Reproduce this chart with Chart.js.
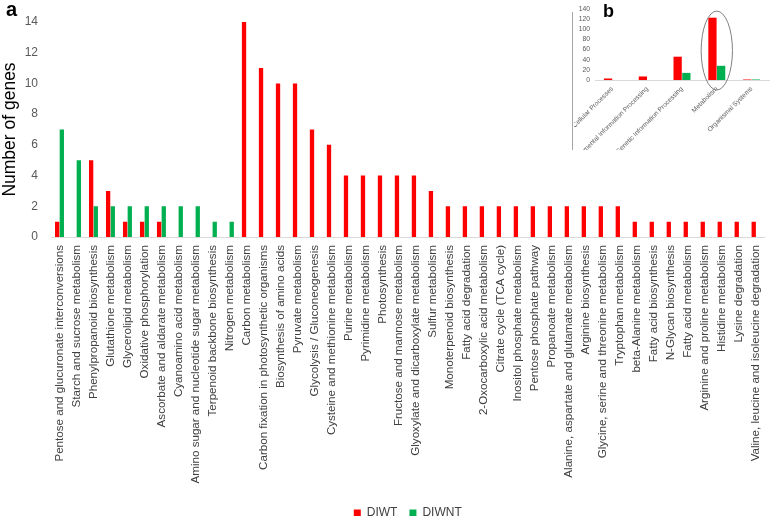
<!DOCTYPE html>
<html>
<head>
<meta charset="utf-8">
<script src="https://cdn.jsdelivr.net/npm/chart.js@4.4.1/dist/chart.umd.min.js"></script>
<style>
  html, body { margin: 0; padding: 0; background: #fff; }
  #wrap { position: relative; width: 778px; height: 516px; overflow: hidden; font-family: "Liberation Sans", Arial, sans-serif; }
  #mainChart { position: absolute; left: 0; top: 0; }
  #inset { position: absolute; left: 572px; top: 0; width: 206px; height: 150px; background: #fff; overflow: hidden; }
  #insetLine { position: absolute; left: 572px; top: 12px; width: 1px; height: 138px; background: #a6a6a6; }
  #insetChart { position: absolute; left: 2px; top: 0; }
  .panel { position: absolute; font-weight: bold; color: #000; }
</style>
</head>
<body>
<div id="wrap">
  <canvas id="mainChart" width="778" height="516"></canvas>
  <div id="inset"><canvas id="insetChart" width="204" height="150"></canvas></div>
  <div id="insetLine"></div>
  <div class="panel" style="left:6px; top:-2px; font-size:20px;">a</div>
  <div class="panel" style="left:603px; top:1px; font-size:18px;">b</div>
</div>
<script>
// panel a: pathways
const pathways = [
    'Pentose and glucuronate interconversions', 'Starch and sucrose metabolism', 'Phenylpropanoid biosynthesis',
    'Glutathione metabolism', 'Glycerolipid metabolism', 'Oxidative phosphorylation', 'Ascorbate and aldarate metabolism',
    'Cyanoamino acid metabolism', 'Amino sugar and nucleotide sugar metabolism', 'Terpenoid backbone biosynthesis',
    'Nitrogen metabolism', 'Carbon metabolism', 'Carbon fixation in photosynthetic organisms', 'Biosynthesis of amino acids',
    'Pyruvate metabolism', 'Glycolysis / Gluconeogenesis', 'Cysteine and methionine metabolism', 'Purine metabolism',
    'Pyrimidine metabolism', 'Photosynthesis', 'Fructose and mannose metabolism', 'Glyoxylate and dicarboxylate metabolism',
    'Sulfur metabolism', 'Monoterpenoid biosynthesis', 'Fatty acid degradation', '2-Oxocarboxylic acid metabolism',
    'Citrate cycle (TCA cycle)', 'Inositol phosphate metabolism', 'Pentose phosphate pathway', 'Propanoate metabolism',
    'Alanine, aspartate and glutamate metabolism', 'Arginine biosynthesis', 'Glycine, serine and threonine metabolism',
    'Tryptophan metabolism', 'beta-Alanine metabolism', 'Fatty acid biosynthesis', 'N-Glycan biosynthesis',
    'Fatty acid metabolism', 'Arginine and proline metabolism', 'Histidine metabolism', 'Lysine degradation',
    'Valine, leucine and isoleucine degradation'
];
const diwt = [1, 0, 5, 3, 1, 1, 1, 0, 0, 0, 0, 14, 11, 10, 10, 7, 6, 4, 4, 4, 4, 4, 3,
              2, 2, 2, 2, 2, 2, 2, 2, 2, 2, 2, 1, 1, 1, 1, 1, 1, 1, 1];
const diwnt = [7, 5, 2, 2, 2, 2, 2, 2, 2, 1, 1, 0, 0, 0, 0, 0, 0, 0, 0, 0, 0, 0, 0,
               0, 0, 0, 0, 0, 0, 0, 0, 0, 0, 0, 0, 0, 0, 0, 0, 0, 0, 0];
const yTicks = [0, 2, 4, 6, 8, 10, 12, 14];

// panel b: KEGG classes
const classes = ['Cellular Processes', 'Environmental Information Processing', 'Genetic Information Processing',
                 'Metabolism', 'Organismal Systems'];
const classDiwt = [3, 7, 46, 123, 1];
const classDiwnt = [0, 0, 14, 28, 1];
const insetTicks = [0, 20, 40, 60, 80, 100, 120, 140];

const RED = '#ff0000';
const GREEN = '#00b050';
const FONT = '"Liberation Sans", Arial, sans-serif';

new Chart(document.getElementById('mainChart'), {
    type: 'bar',
    data: {
        labels: pathways,
        datasets: [
            { label: 'DIWT', data: diwt, backgroundColor: RED, categoryPercentage: 0.55, barPercentage: 0.92 },
            { label: 'DIWNT', data: diwnt, backgroundColor: GREEN, categoryPercentage: 0.55, barPercentage: 0.92 }
        ]
    },
    options: {
        responsive: false,
        animation: false,
        // negative bottom padding lets the legend sit low, like the original
        layout: { padding: { top: 22, right: 1, left: 0, bottom: -13 } },
        plugins: {
            tooltip: { enabled: false },
            legend: {
                position: 'bottom',
                fullSize: false,
                labels: { boxWidth: 7, boxHeight: 7, padding: 12, color: '#404040', font: { family: FONT, size: 12 } }
            }
        },
        scales: {
            x: {
                afterFit: s => { s.height = 258; },
                grid: { display: false, drawTicks: false },
                border: { display: true, color: '#d9d9d9' },
                ticks: {
                    autoSkip: false, minRotation: 90, maxRotation: 90, padding: 8,
                    color: '#404040', font: { family: FONT, size: 11.6 }
                }
            },
            y: {
                min: 0, max: 14,
                afterBuildTicks: s => { s.ticks = yTicks.map(v => ({ value: v })); },
                afterFit: s => { s.width = 51; },
                grid: { display: false, drawTicks: false },
                border: { display: false },
                ticks: { padding: 13, color: '#595959', font: { family: FONT, size: 12 } },
                title: {
                    display: true, text: 'Number of genes', color: '#000',
                    font: { family: FONT, size: 17.5 }, padding: 0
                }
            }
        }
    }
});

// ellipse around the Metabolism bars
const ringPlugin = {
    id: 'ring',
    afterDatasetsDraw(chart) {
        const xs = chart.scales.x, ys = chart.scales.y;
        const cx = xs.getPixelForValue(3);
        const rx = (xs.width / classes.length) * 0.45;
        const top = ys.getPixelForValue(136);
        const bottom = ys.bottom + 10;
        const ctx = chart.ctx;
        ctx.save();
        ctx.strokeStyle = '#7f7f7f';
        ctx.lineWidth = 1;
        ctx.beginPath();
        ctx.ellipse(cx, (top + bottom) / 2, rx, (bottom - top) / 2, 0, 0, Math.PI * 2);
        ctx.stroke();
        ctx.restore();
    }
};

new Chart(document.getElementById('insetChart'), {
    type: 'bar',
    data: {
        labels: classes,
        datasets: [
            { label: 'DIWT', data: classDiwt, backgroundColor: RED, categoryPercentage: 0.5, barPercentage: 0.95 },
            { label: 'DIWNT', data: classDiwnt, backgroundColor: GREEN, categoryPercentage: 0.5, barPercentage: 0.95 }
        ]
    },
    plugins: [ringPlugin],
    options: {
        responsive: false,
        animation: false,
        layout: { padding: { top: 0, right: 9, left: 0, bottom: 0 } },
        plugins: { legend: { display: false }, tooltip: { enabled: false } },
        scales: {
            x: {
                afterFit: s => { s.height = 70; s.paddingLeft = 0; s.paddingRight = 0; },
                grid: { display: false, drawTicks: false },
                border: { display: true, color: '#d9d9d9' },
                ticks: {
                    autoSkip: false, minRotation: 45, maxRotation: 45, padding: 5,
                    color: '#595959', font: { family: FONT, size: 6.6 }
                }
            },
            y: {
                min: 0, max: 140,
                afterBuildTicks: s => { s.ticks = insetTicks.map(v => ({ value: v })); },
                afterFit: s => { s.width = 21; },
                grid: { display: false, drawTicks: false },
                border: { display: false },
                ticks: { autoSkip: false, padding: 5, color: '#595959', font: { family: FONT, size: 6.8 } }
            }
        }
    }
});
</script>
</body>
</html>
